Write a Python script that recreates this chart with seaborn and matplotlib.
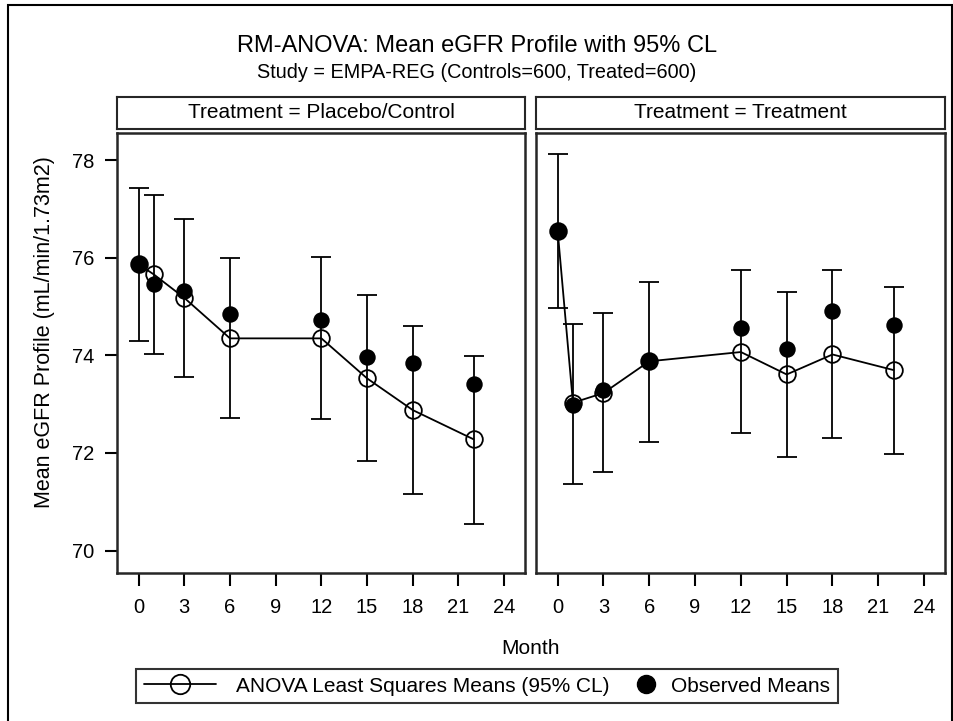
import pandas as pd
import matplotlib.pyplot as plt
import seaborn as sns
from matplotlib.lines import Line2D
from matplotlib.patches import Rectangle
from matplotlib.legend_handler import HandlerLine2D

# months of the visits
months = [0, 1, 3, 6, 12, 15, 18, 22]

# placebo / control arm
ctrl_ls = [75.87, 75.66, 75.18, 74.35, 74.35, 73.53, 72.88, 72.28]
ctrl_lo = [74.30, 74.02, 73.56, 72.72, 72.69, 71.83, 71.15, 70.55]
ctrl_hi = [77.43, 77.28, 76.80, 76.00, 76.02, 75.23, 74.60, 73.98]
ctrl_obs = [75.87, 75.47, 75.32, 74.84, 74.72, 73.97, 73.85, 73.41]

# treatment arm
trt_ls = [76.55, 73.03, 73.23, 73.88, 74.07, 73.61, 74.02, 73.70]
trt_lo = [74.98, 71.37, 71.61, 72.23, 72.41, 71.92, 72.30, 71.98]
trt_hi = [78.12, 74.64, 74.87, 75.51, 75.75, 75.30, 75.75, 75.40]
trt_obs = [76.55, 72.98, 73.29, 73.88, 74.57, 74.14, 74.92, 74.62]

panels = ["Placebo/Control", "Treatment"]

df = pd.concat([
    pd.DataFrame({"Treatment": panels[0], "Month": months, "LSMean": ctrl_ls,
                  "Lower": ctrl_lo, "Upper": ctrl_hi, "Observed": ctrl_obs}),
    pd.DataFrame({"Treatment": panels[1], "Month": months, "LSMean": trt_ls,
                  "Lower": trt_lo, "Upper": trt_hi, "Observed": trt_obs}),
], ignore_index=True)


class MarkerAtEnd(HandlerLine2D):
    # legend handle with the marker pushed to the right end (close to its text)
    def get_xdata(self, legend, xdescent, ydescent, width, height, fontsize):
        x = [width - xdescent - 6, width - xdescent]
        return x, x


sns.set_style("ticks")
plt.rcParams['font.family'] = ['Liberation Sans', 'DejaVu Sans']
plt.rcParams['text.color'] = 'black'
plt.rcParams['xtick.color'] = 'black'
plt.rcParams['ytick.color'] = 'black'
plt.rcParams['axes.labelcolor'] = 'black'

W, H = 954, 721
fig = plt.figure(figsize=(W / 100, H / 100), dpi=100)

# outer frame of the graph
fig.add_artist(Rectangle((8 / W, -0.01), (952 - 8) / W, 1 - 5 / H + 0.01,
                         transform=fig.transFigure, fill=False, lw=1.5, ec="black"))

fig.text(477 / W, 1 - 46 / H, "RM-ANOVA: Mean eGFR Profile with 95% CL",
         ha="center", va="center", fontsize=17)
fig.text(477 / W, 1 - 73 / H, "Study = EMPA-REG (Controls=600, Treated=600)",
         ha="center", va="center", fontsize=14.3)

boxes = [(117, 525), (536, 945)]
axes = []
for i, (x0, x1) in enumerate(boxes):
    ax = fig.add_axes([x0 / W, 1 - 573 / H, (x1 - x0) / W, (573 - 133) / H],
                      sharey=axes[0] if axes else None)
    axes.append(ax)
    sub = df[df["Treatment"] == panels[i]]

    ax.errorbar(sub["Month"], sub["LSMean"],
                yerr=[sub["LSMean"] - sub["Lower"], sub["Upper"] - sub["LSMean"]],
                fmt="none", ecolor="black", elinewidth=1.3, capsize=7.2, capthick=1.3)
    sns.lineplot(data=sub, x="Month", y="LSMean", ax=ax, color="black", lw=1.3,
                 marker="o", markersize=12, markerfacecolor="none",
                 markeredgecolor="black", markeredgewidth=1.3)
    sns.scatterplot(data=sub, x="Month", y="Observed", ax=ax, color="black",
                    s=140, linewidth=0, zorder=5)

    ax.set_xlim(-1.42, 25.37)
    ax.set_ylim(69.54, 78.56)
    ax.set_xticks(range(0, 25, 3))
    ax.set_yticks([70, 72, 74, 76, 78])
    ax.tick_params(axis="both", length=9, width=1.5, labelsize=14.5, color="black")
    ax.tick_params(axis="x", pad=9)
    ax.tick_params(axis="y", pad=7.5)
    ax.set_xlabel("")
    ax.set_ylabel("")
    for s in ax.spines.values():
        s.set_visible(True)
        s.set_linewidth(1.8)
    if i == 1:
        ax.tick_params(axis="y", left=False, labelleft=False)

    # strip header
    sax = fig.add_axes([x0 / W, 1 - 129 / H, (x1 - x0) / W, 32 / H])
    sax.set_xticks([])
    sax.set_yticks([])
    for s in sax.spines.values():
        s.set_linewidth(1.5)
    sax.text(0.5, 0.5, "Treatment = " + panels[i], ha="center", va="center",
             fontsize=15, transform=sax.transAxes)

fig.text(45 / W, 1 - 332 / H, "Mean eGFR Profile (mL/min/1.73m2)", rotation=90,
         ha="center", va="center", fontsize=15.5)
fig.text(531 / W, 1 - 648 / H, "Month", ha="center", va="center", fontsize=15)

ls_handle = Line2D([], [], color="black", lw=1.3, marker="o", markersize=14,
                   markerfacecolor="none", markeredgewidth=1.3)
obs_handle = Line2D([], [], color="black", lw=0, marker="o", markersize=13)
leg = fig.legend([ls_handle, obs_handle],
                 ["ANOVA Least Squares Means (95% CL)", "Observed Means"],
                 handler_map={obs_handle: MarkerAtEnd()},
                 loc="center", bbox_to_anchor=(487 / W, 1 - 686 / H), ncol=2,
                 fontsize=15, frameon=True, fancybox=False, handlelength=3.45,
                 handletextpad=1.0, columnspacing=-1.5, borderpad=0.35)
leg.get_frame().set_edgecolor("black")
leg.get_frame().set_linewidth(1.5)

fig.savefig("out.png", dpi=100)
